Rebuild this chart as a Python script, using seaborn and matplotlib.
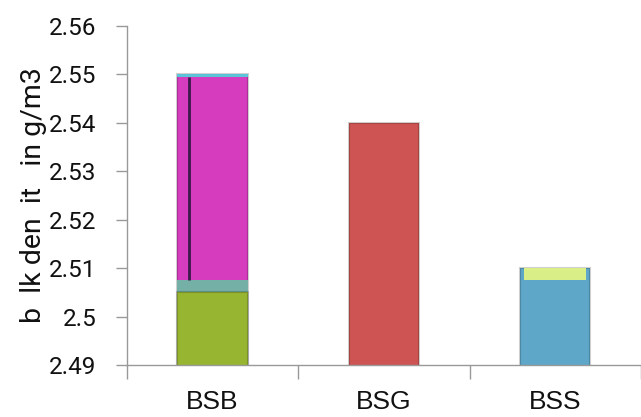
import matplotlib
matplotlib.use("Agg")
import matplotlib.pyplot as plt
import seaborn as sns
import pandas as pd
from matplotlib.ticker import FixedLocator, MultipleLocator, FuncFormatter

# Bulk density per sample
categories = ["BSB", "BSG", "BSS"]
bulk_density = [2.55, 2.54, 2.51]
bar_colors = ["#d63cbe", "#cd5452", "#5ea7c9"]

# Lower band of the BSB bar and top cap of the BSS bar
bsb_lower = 2.505
bsb_band_top = 2.5075
bsb_lower_color = "#98b531"
bsb_band_color = "#74b0a6"
bsb_cap_low = 2.5494
bsb_cap_color = "#5cc4d8"
bss_cap_low = 2.5075
bss_cap_color = "#d9ee86"

y_min, y_max, y_step = 2.49, 2.56, 0.01
y_label = "b  lk den  it   in g/m3"
bar_width = 0.41

sns.set_theme(style="white")
plt.rcParams["font.family"] = ["Liberation Sans Narrow", "Liberation Sans", "DejaVu Sans"]

df = pd.DataFrame({"sample": categories, "density": bulk_density})

fig = plt.figure(figsize=(6.41, 4.17), dpi=100)
ax = fig.add_axes([0.198, 0.1247, 0.802, 0.8129])

edge = "#00000030"
sns.barplot(data=df, x="sample", y="density", hue="sample", palette=bar_colors,
            width=bar_width, legend=False, ax=ax, edgecolor=edge, linewidth=1.5,
            saturation=1)


def segment(values, low, color, width=bar_width, lw=0.0):
    """Overlay a bar segment from `low` up to each value."""
    seg = pd.DataFrame({"sample": categories, "density": values})
    sns.barplot(data=seg, x="sample", y="density", color=color, width=width,
                ax=ax, saturation=1, linewidth=lw, edgecolor=edge)
    for p, v in zip(ax.patches[-len(categories):], values):
        if v:
            p.set_y(low)
            p.set_height(v - low)


# BSB: teal band, green base, cyan top rim
segment([bsb_band_top, 0, 0], bsb_lower, bsb_band_color)
seg = pd.DataFrame({"sample": categories, "density": [bsb_lower, 0, 0]})
sns.barplot(data=seg, x="sample", y="density", color=bsb_lower_color, width=bar_width,
            ax=ax, saturation=1, edgecolor=edge, linewidth=1.5)
segment([bulk_density[0], 0, 0], bsb_cap_low, bsb_cap_color)
# dark stripe inside the BSB bar
stripe_x = 0 - bar_width / 2 + 0.07
ax.vlines(stripe_x, bsb_band_top, bsb_cap_low, color="#3a1a4a", lw=2)

# BSS: light cap at the top
segment([0, 0, bulk_density[2]], bss_cap_low, bss_cap_color, width=bar_width - 0.05)

ax.set_ylim(y_min, y_max)
ax.set_xlim(-0.5, 2.5)
ax.yaxis.set_major_locator(MultipleLocator(y_step))
ax.yaxis.set_major_formatter(FuncFormatter(lambda v, _: f"{round(v, 2):g}"))

ax.xaxis.set_minor_locator(FixedLocator([-0.5, 0.5, 1.5, 2.5]))
ax.tick_params(axis="x", which="major", length=0, pad=18, labelsize=19, colors="#111111")
ax.tick_params(axis="x", which="minor", length=10, width=1, color="#999999", bottom=True)
ax.tick_params(axis="y", which="major", length=8, width=1, color="#999999", left=True,
               pad=14, labelsize=17.5, labelcolor="#111111")
for lbl in ax.get_yticklabels():
    lbl.set_family("Roboto")

ax.set_xlabel("")
ax.set_ylabel(y_label, fontsize=20.5, color="#111111", labelpad=1, family="Roboto")

for side in ["top", "right"]:
    ax.spines[side].set_visible(False)
for side in ["left", "bottom"]:
    ax.spines[side].set_color("#999999")
    ax.spines[side].set_linewidth(1)

fig.savefig("out.png", dpi=100)
